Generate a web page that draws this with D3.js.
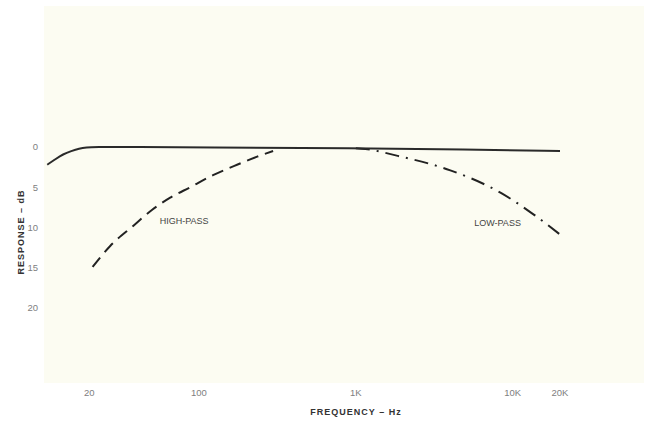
<!DOCTYPE html>
<html>
<head>
<meta charset="utf-8">
<script src="https://cdn.jsdelivr.net/npm/d3@7"></script>
<style>
  html, body { margin: 0; padding: 0; background: #fff; }
  svg { display: block; }
</style>
</head>
<body>
<script>
// frequency response, dB below 0 (drawn downward)
const flatFreq = [10.8, 12.2, 13.6, 15.4, 17.2, 19.4, 21, 40, 100, 1000, 5000, 20000]
const flatDb = [2.2, 1.5, 0.9, 0.5, 0.2, 0.05, 0, 0, 0.05, 0.15, 0.3, 0.5]

const highPassFreq = [21, 27.2, 38.1, 50.4, 65.6, 88, 123, 175, 235, 297]
const highPassDb = [14.9, 12.3, 9.8, 7.8, 6.3, 5.0, 3.5, 2.2, 1.2, 0.5]

const lowPassFreq = [1000, 1150, 1850, 4000, 8400, 13400, 21000]
const lowPassDb = [0.15, 0.25, 1.1, 2.9, 5.7, 8.3, 11.2]

const xTicks = [20, 100, 1000, 10000, 20000]
const xTickLabels = ['20', '100', '1K', '10K', '20K']
const yTicks = [0, 5, 10, 15, 20]

const width = 656, height = 421

const svg = d3.select('body').append('svg')
    .attr('width', width)
    .attr('height', height)
    .style('font-family', '"Liberation Sans", Arial, sans-serif')

// scanned paper area
svg.append('rect')
    .attr('x', 44).attr('y', 6)
    .attr('width', 600).attr('height', 377)
    .attr('fill', '#fcfcf2')

const x = d3.scaleLog().domain([10, 20000]).range([42, 560])
const y = d3.scaleLinear().domain([0, 20]).range([147, 308])

const zip = (fs, ds) => fs.map((f, i) => ({f, db: ds[i]}))

const line = d3.line()
    .x(d => x(d.f))
    .y(d => y(d.db))
    .curve(d3.curveMonotoneX)

// y ticks (no axis line in the original)
svg.append('g')
    .selectAll('text')
    .data(yTicks)
    .join('text')
    .attr('x', 38)
    .attr('y', d => y(d))
    .attr('dy', '0.35em')
    .attr('text-anchor', 'end')
    .attr('font-size', 9.5)
    .attr('fill', '#808080')
    .text(d => d)

// x ticks
svg.append('g')
    .selectAll('text')
    .data(xTicks)
    .join('text')
    .attr('x', d => x(d))
    .attr('y', 393)
    .attr('dy', '0.35em')
    .attr('text-anchor', 'middle')
    .attr('font-size', 9.5)
    .attr('fill', '#808080')
    .text((d, i) => xTickLabels[i])

// axis titles
svg.append('text')
    .attr('x', 356)
    .attr('y', 412)
    .attr('dy', '0.35em')
    .attr('text-anchor', 'middle')
    .attr('font-size', 9)
    .attr('font-weight', 'bold')
    .attr('letter-spacing', 1)
    .attr('fill', '#333')
    .text('FREQUENCY – Hz')

svg.append('text')
    .attr('transform', 'translate(21,232) rotate(-90)')
    .attr('dy', '0.35em')
    .attr('text-anchor', 'middle')
    .attr('font-size', 9)
    .attr('font-weight', 'bold')
    .attr('letter-spacing', 1)
    .attr('fill', '#333')
    .text('RESPONSE – dB')

// curves
svg.append('path')
    .datum(zip(highPassFreq, highPassDb))
    .attr('d', line)
    .attr('fill', 'none')
    .attr('stroke', '#222')
    .attr('stroke-width', 2)
    .attr('stroke-dasharray', '12,7')

svg.append('path')
    .datum(zip(lowPassFreq, lowPassDb))
    .attr('d', line)
    .attr('fill', 'none')
    .attr('stroke', '#222')
    .attr('stroke-width', 2)
    .attr('stroke-dasharray', '14,7,2,7')

// the flat response gets a smoother curve so the knee has no kink
svg.append('path')
    .datum(zip(flatFreq, flatDb))
    .attr('d', line.curve(d3.curveBasis))
    .attr('fill', 'none')
    .attr('stroke', '#2a2a2a')
    .attr('stroke-width', 2)

// curve labels
svg.append('text')
    .attr('x', x(80.5)).attr('y', y(9.2))
    .attr('dy', '0.35em')
    .attr('text-anchor', 'middle')
    .attr('font-size', 9)
    .attr('fill', '#444')
    .text('HIGH-PASS')

svg.append('text')
    .attr('x', x(8000)).attr('y', y(9.4))
    .attr('dy', '0.35em')
    .attr('text-anchor', 'middle')
    .attr('font-size', 9)
    .attr('fill', '#444')
    .text('LOW-PASS')
</script>
</body>
</html>
